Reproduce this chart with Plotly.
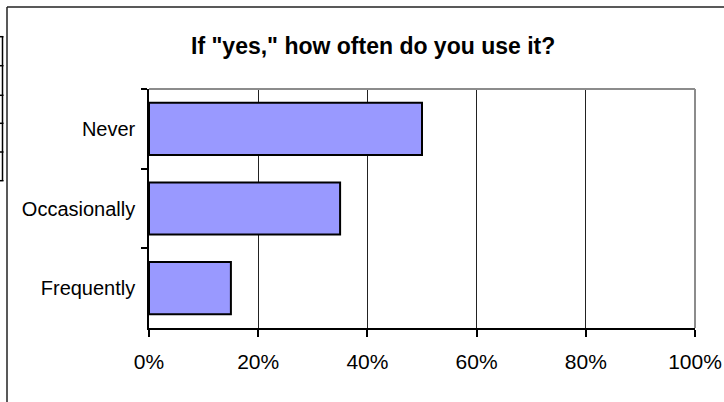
import plotly.graph_objects as go

categories = ["Never", "Occasionally", "Frequently"]
shares = [0.50, 0.35, 0.15]
x_ticks = [0, 0.2, 0.4, 0.6, 0.8, 1.0]
x_tick_labels = ["0%", "20%", "40%", "60%", "80%", "100%"]
title_text = 'If "yes," how often do you use it?'

W, H = 724, 402
L, R, T, B = 149, 695, 89, 328  # plot area in pixels


def px(x):
    return (x - L) / (R - L)


def py(y):
    return (B - y) / (B - T)


fig = go.Figure(
    go.Bar(
        x=shares,
        y=categories,
        orientation="h",
        marker=dict(color="#9999FF", line=dict(color="#000000", width=2)),
        width=0.655,
        hoverinfo="skip",
    )
)

shapes = []
# outer chart border (top and left visible)
shapes.append(dict(type="line", xref="paper", yref="paper",
                   x0=px(7), x1=px(740), y0=py(7), y1=py(7),
                   line=dict(color="#222222", width=1.5)))
shapes.append(dict(type="line", xref="paper", yref="paper",
                   x0=px(7), x1=px(7), y0=py(7), y1=py(420),
                   line=dict(color="#222222", width=1.5)))
# plot area border top and right (grey)
shapes.append(dict(type="line", xref="paper", yref="paper",
                   x0=0, x1=1, y0=1, y1=1,
                   line=dict(color="#8c8c8c", width=2), layer="above"))
shapes.append(dict(type="line", xref="paper", yref="paper",
                   x0=1, x1=1, y0=0, y1=1,
                   line=dict(color="#8c8c8c", width=2), layer="above"))
# small fragment of a neighbouring object at the far left
shapes.append(dict(type="line", xref="paper", yref="paper",
                   x0=px(2.5), x1=px(2.5), y0=py(36.5), y1=py(181),
                   line=dict(color="#000000", width=1.5)))
for yy in [36.7, 65.7, 95.3, 123.3, 152, 180.7]:
    shapes.append(dict(type="line", xref="paper", yref="paper",
                       x0=px(0), x1=px(3.5), y0=py(yy), y1=py(yy),
                       line=dict(color="#000000", width=1.5)))

fig.update_layout(
    width=W, height=H,
    margin=dict(l=L, r=W - R, t=T, b=H - B, autoexpand=False),
    paper_bgcolor="white",
    plot_bgcolor="white",
    showlegend=False,
    font=dict(family="Liberation Sans, Arial, sans-serif", color="#000000", size=20),
    shapes=shapes,
    annotations=[dict(
        text="<b>" + title_text + "</b>",
        xref="paper", yref="paper",
        x=px(372.5), y=py(46),
        xanchor="center", yanchor="middle",
        showarrow=False,
        font=dict(family="Liberation Sans, Arial, sans-serif", size=23, color="#000000"),
    )],
    xaxis=dict(
        range=[0, 1],
        tickvals=x_ticks,
        ticktext=x_tick_labels,
        tickfont=dict(size=21),
        showgrid=True, gridcolor="#222222", gridwidth=1,
        showline=True, linecolor="#000000", linewidth=1.5,
        ticks="outside", ticklen=7, tickcolor="#000000", tickwidth=1.5,
        ticklabelstandoff=7,
        zeroline=False,
        fixedrange=True,
    ),
    yaxis=dict(
        categoryorder="array",
        categoryarray=categories,
        autorange="reversed",
        showgrid=False,
        showline=True, linecolor="#000000", linewidth=1.5,
        ticks="outside", ticklen=6, tickcolor="#000000", tickwidth=1.5,
        tickson="boundaries",
        ticklabelstandoff=8,
        zeroline=False,
        fixedrange=True,
    ),
)

fig.write_html(
    "out.html",
    config={"displayModeBar": False},
    post_script="document.body.style.margin='0';document.body.style.overflow='hidden';",
)
